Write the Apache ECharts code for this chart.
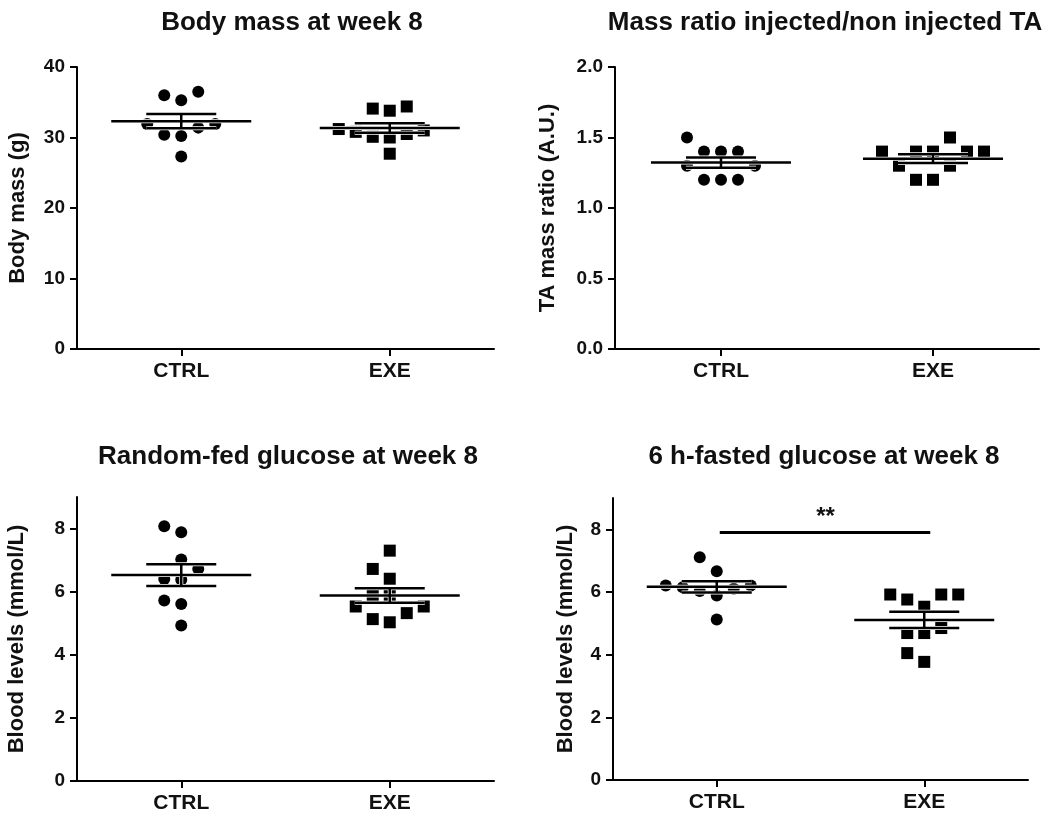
<!DOCTYPE html>
<html><head><meta charset="utf-8">
<script src="https://cdn.jsdelivr.net/npm/echarts@6/dist/echarts.min.js"></script>
<style>html,body{margin:0;padding:0;background:#fff}#c{width:1063px;height:814px}</style>
</head><body><div id="c"></div>
<script>
// ---------- data ----------
const categories = ['CTRL', 'EXE'];
const titles = ['Body mass at week 8', 'Mass ratio injected/non injected TA', 'Random-fed glucose at week 8', '6 h-fasted glucose at week 8'];
const yNames = ['Body mass (g)', 'TA mass ratio (A.U.)', 'Blood levels (mmol/L)', 'Blood levels (mmol/L)'];

const bodyMassCtrl = [36.5, 35.3, 36.0, 31.9, 31.9, 31.4, 30.4, 30.2, 27.3];
const bodyMassExe  = [34.4, 33.8, 34.1, 31.2, 31.0, 30.8, 30.5, 30.1, 30.0, 27.7];
const taRatioCtrl  = [1.50, 1.40, 1.40, 1.40, 1.30, 1.30, 1.20, 1.20, 1.20];
const taRatioExe   = [1.50, 1.40, 1.40, 1.40, 1.40, 1.40, 1.30, 1.30, 1.20, 1.20];
const fedGluCtrl   = [7.88, 8.07, 7.02, 6.72, 6.38, 6.40, 5.72, 5.61, 4.93];
const fedGluExe    = [7.30, 6.72, 6.41, 5.90, 5.90, 5.53, 5.53, 5.32, 5.03, 5.13];
const fastGluCtrl  = [7.11, 6.66, 6.21, 6.21, 6.15, 6.10, 6.03, 5.89, 5.12];
const fastGluExe   = [5.92, 5.92, 5.92, 5.76, 5.53, 4.69, 4.69, 4.85, 4.05, 3.77];

const yTicks = [[0, 10, 20, 30, 40], [0, 0.5, 1.0, 1.5, 2.0], [0, 2, 4, 6, 8], [0, 2, 4, 6, 8]];
const yMax = [40, 2, 9, 9];
const sigLabel = '**';
const sigLevel = 7.9;

// ---------- layout / style ----------
const FONT = '"Liberation Sans", Arial, sans-serif';
const grids = [
  {left: 77, top: 67, width: 417, height: 282},
  {left: 615, top: 67, width: 424, height: 282},
  {left: 77, top: 497, width: 417, height: 284},
  {left: 613, top: 498, width: 415, height: 282}
];
const titlePos = [[287, 5], [820, 5], [283, 439], [819, 439]];
const nameGaps = [48, 56, 49, 36];
const panels = [
  [bodyMassCtrl, bodyMassExe],
  [taRatioCtrl, taRatioExe],
  [fedGluCtrl, fedGluExe],
  [fastGluCtrl, fastGluExe]
];
const SYM = 12, STEP = 17, THRESH = 16;

function swarm(values, pxPerUnit) {
  const idx = values.map((v, i) => i).sort((a, b) => values[a] - values[b]);
  const placed = [], off = new Array(values.length);
  const cands = [0];
  for (let k = 1; k < 10; k++) cands.push(-k, k);
  for (const i of idx) {
    const y = values[i] * pxPerUnit;
    for (const c of cands) {
      if (!placed.some(p => p.c === c && Math.abs(p.y - y) < THRESH)) {
        placed.push({c, y}); off[i] = c * STEP; break;
      }
    }
  }
  return off;
}
function stats(a) {
  const n = a.length, m = a.reduce((s, v) => s + v, 0) / n;
  const sd = Math.sqrt(a.reduce((s, v) => s + (v - m) * (v - m), 0) / (n - 1));
  return [m, sd / Math.sqrt(n)];
}

const axisLineStyle = {color: '#000', width: 2};
const option = {
  backgroundColor: '#fff',
  animation: false,
  title: titles.map((t, i) => ({
    text: t, left: titlePos[i][0], top: titlePos[i][1], textAlign: 'center',
    textStyle: {fontFamily: FONT, fontSize: 26, fontWeight: 'bold', color: '#111'}
  })),
  grid: grids.map(g => Object.assign({containLabel: false}, g)),
  xAxis: grids.map((g, i) => ({
    gridIndex: i, type: 'category', data: categories,
    axisLine: {show: true, lineStyle: axisLineStyle},
    axisTick: {show: true, alignWithLabel: true, length: 7, lineStyle: axisLineStyle},
    axisLabel: {color: '#111', fontFamily: FONT, fontSize: 21, fontWeight: 'bold', margin: 12},
    splitLine: {show: false}
  })),
  yAxis: grids.map((g, i) => ({
    gridIndex: i, type: 'value', min: 0, max: yMax[i],
    name: yNames[i], nameLocation: 'middle', nameGap: nameGaps[i],
    nameTextStyle: {fontFamily: FONT, fontSize: 22, fontWeight: 'bold', color: '#111'},
    axisLine: {show: true, onZero: false, lineStyle: axisLineStyle},
    axisTick: {show: true, length: 7, lineStyle: axisLineStyle, customValues: yTicks[i]},
    axisLabel: {color: '#111', fontFamily: FONT, fontSize: 19, fontWeight: 'bold', margin: 12,
      customValues: yTicks[i],
      formatter: i === 1 ? (v => Number(v).toFixed(1)) : (v => String(v))},
    splitLine: {show: false}
  })),
  series: []
};

panels.forEach((pair, p) => {
  const pxPerUnit = grids[p].height / yMax[p];
  pair.forEach((vals, c) => {
    const off = swarm(vals, pxPerUnit);
    option.series.push({
      type: 'scatter', name: categories[c], xAxisIndex: p, yAxisIndex: p,
      symbol: c === 0 ? 'circle' : 'rect', symbolSize: SYM,
      itemStyle: {color: '#000', opacity: 1}, z: 2,
      emphasis: {disabled: true},
      data: vals.map((v, k) => ({value: [c, v], symbolOffset: [off[k], 0]}))
    });
  });
  option.series.push({
    type: 'custom', name: 'mean ± SEM', xAxisIndex: p, yAxisIndex: p, z: 5,
    data: pair.map((vals, c) => { const s = stats(vals); return [c, s[0], s[1]]; }),
    renderItem: (params, api) => {
      const x = api.value(0), m = api.value(1), s = api.value(2);
      const c = api.coord([x, m]), t = api.coord([x, m + s]), b = api.coord([x, m - s]);
      const L = [[c[0] - 70, c[1], c[0] + 70, c[1]], [c[0] - 35, t[1], c[0] + 35, t[1]],
                 [c[0] - 35, b[1], c[0] + 35, b[1]], [c[0], t[1], c[0], b[1]]];
      const ch = [];
      L.forEach(l => ch.push({type: 'line', shape: {x1: l[0], y1: l[1], x2: l[2], y2: l[3]}, style: {stroke: '#fff', lineWidth: 4}}));
      L.forEach(l => ch.push({type: 'line', shape: {x1: l[0], y1: l[1], x2: l[2], y2: l[3]}, style: {stroke: '#000', lineWidth: 2.5}}));
      return {type: 'group', children: ch};
    }
  });
});

// significance bar on panel 4
option.series.push({
  type: 'custom', name: 'significance', xAxisIndex: 3, yAxisIndex: 3, z: 6,
  data: [[0, 1, sigLevel]],
  renderItem: (params, api) => {
    const a = api.coord([api.value(0), api.value(2)]), b = api.coord([api.value(1), api.value(2)]);
    return {type: 'group', children: [
      {type: 'line', shape: {x1: a[0] + 3, y1: a[1], x2: b[0] + 6, y2: b[1]}, style: {stroke: '#000', lineWidth: 3}},
      {type: 'text', x: (a[0] + b[0]) / 2 + 5, y: a[1] - 3,
       style: {text: sigLabel, fontFamily: FONT, fontSize: 24, fontWeight: 'bold', fill: '#111', align: 'center', verticalAlign: 'bottom'}}
    ]};
  }
});

const chart = echarts.init(document.getElementById('c'), null, {renderer: 'canvas'});
chart.setOption(option);
</script>
</body></html>
